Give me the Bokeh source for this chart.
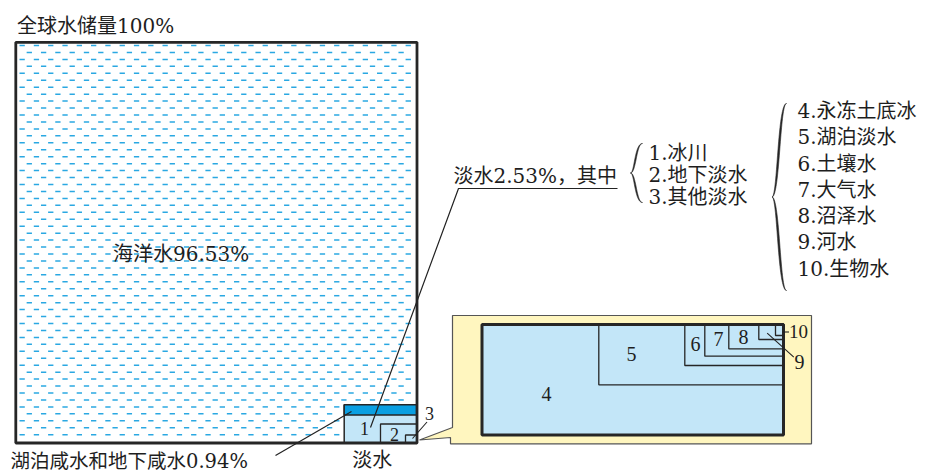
import numpy as np
from bokeh.plotting import figure
from bokeh.models import Range1d
from bokeh.core.properties import value
from bokeh.embed import file_html
from bokeh.resources import INLINE

# ---------------- data ----------------
total_pct = 100
ocean_pct = 96.53
fresh_pct = 2.53
saline_pct = 0.94
title_label = f"全球水储量{total_pct}%"
ocean_label = f"海洋水{ocean_pct:.2f}%"
fresh_label = f"淡水{fresh_pct:.2f}%，其中"
saline_label = f"湖泊咸水和地下咸水{saline_pct:.2f}%"
fresh_word = "淡水"
fresh_items = ["1.冰川", "2.地下淡水", "3.其他淡水"]
other_items = ["4.永冻土底冰", "5.湖泊淡水", "6.土壤水", "7.大气水",
               "8.沼泽水", "9.河水", "10.生物水"]
inset_ids = ["5", "6", "7", "8", "9", "10"]

# ---------------- layout (pixel space of the picture) ----------------
W, H = 926, 473
MIX = value("'DejaVu Serif', 'Noto Sans CJK SC'")
SERIF = value("Liberation Serif")
INK = "#262626"
LIGHT = "#c3e6f8"

p = figure(width=W, height=H, x_range=Range1d(0, W), y_range=Range1d(H, 0),
           output_backend="svg", toolbar_location=None, min_border=0,
           x_axis_type=None, y_axis_type=None)
p.grid.visible = False
p.outline_line_color = None
p.background_fill_color = "white"
p.border_fill_color = "white"

# big box frame
BX0, BX1, BY0, BY1 = 15.3, 416.5, 41.8, 442.5
# fresh-water block
FX0, FY0, FY1 = 343.7, 404.3, 414.5

# ocean dash pattern
xs0, ys0 = [], []
for i, y in enumerate(np.arange(45.0, 440.0, 6.95)):
    off = 7.15 * (i % 2)
    for x in np.arange(19.0 + off, BX1 - 6, 14.3):
        if x + 5.3 > FX0 - 2 and y > FY0 - 3:
            continue
        xs0.append(x)
        ys0.append(y)
xs0 = np.array(xs0)
ys0 = np.array(ys0)
p.segment(x0=xs0, y0=ys0, x1=xs0 + 5.3, y1=ys0, line_color="#2aa8e2", line_width=1.5)

# fresh water region
p.quad(left=[FX0], right=[BX1], top=[FY0], bottom=[BY1], fill_color=LIGHT,
       line_color=INK, line_width=1.5)
p.quad(left=[FX0], right=[BX1], top=[FY0], bottom=[FY1], fill_color="#0a9fe2",
       line_color=INK, line_width=1.5)
p.quad(left=[380.0, 405.0], right=[BX1, BX1], top=[423.5, 434.5], bottom=[BY1, BY1],
       fill_color=LIGHT, line_color=INK, line_width=1.3)

# big box frame on top
p.quad(left=[BX0], right=[BX1], top=[BY0], bottom=[BY1], fill_color=None,
       line_color=INK, line_width=2.8)

# call-out
p.patch(x=[452, 811, 811, 450, 450, 419, 452], y=[315, 315, 443.3, 443.3, 437, 439.5, 427],
        fill_color="#fff6bf", line_color="#555555", line_width=1.2)

# inset
IX0, IX1, IY0, IY1 = 481.5, 783.0, 324.0, 434.5
p.quad(left=[IX0], right=[IX1], top=[IY0], bottom=[IY1], fill_color=LIGHT,
       line_color=None)
lefts = [598.3, 684.3, 704.3, 728.3, 758.3, 775.0]
bottoms = [384.3, 365.0, 355.7, 348.3, 339.0, 335.0]
p.quad(left=lefts, right=[IX1] * 6, top=[IY0] * 6, bottom=bottoms, fill_color=None,
       line_color=INK, line_width=1.3)
p.quad(left=[IX0], right=[IX1], top=[IY0], bottom=[IY1], fill_color=None,
       line_color=INK, line_width=3)

# leader lines
lc = "#222222"
p.line(x=[617, 458, 370], y=[188, 188, 427], line_color=lc, line_width=1.2)
p.line(x=[275, 351], y=[455, 411], line_color=lc, line_width=1.2)
p.line(x=[426.5, 412], y=[421.5, 438], line_color=lc, line_width=1.1)
p.line(x=[766.7, 793.3], y=[332.7, 356.7], line_color=lc, line_width=1.1)
p.line(x=[781.7, 788.5], y=[331.5, 331.5], line_color=lc, line_width=1.1)


def bez(P0, P1, P2, P3, n=40):
    t = np.linspace(0, 1, n)[:, None]
    P0, P1, P2, P3 = map(np.array, (P0, P1, P2, P3))
    return (1 - t) ** 3 * P0 + 3 * (1 - t) ** 2 * t * P1 + 3 * (1 - t) * t ** 2 * P2 + t ** 3 * P3


def brace(xl, xm, xr, y0, y1, th):
    ym = (y0 + y1) / 2
    o1 = bez((xr, y0), (xm, y0), (xm, ym), (xl, ym))
    o2 = bez((xl, ym), (xm, ym), (xm, y1), (xr, y1))
    i2 = bez((xl, ym), (xm + th, ym), (xm + th, y1), (xr, y1))[::-1]
    i1 = bez((xr, y0), (xm + th, y0), (xm + th, ym), (xl, ym))[::-1]
    pts = np.vstack([o1, o2, i2, i1])
    p.patch(x=pts[:, 0], y=pts[:, 1], fill_color=INK, line_color=INK, line_width=0.6)


brace(630.0, 634.0, 642.0, 143.0, 202.0, 1.8)
brace(771.5, 777.0, 786.0, 103.0, 290.0, 2.4)

# texts
def txt(x, y, s, size, font=MIX, align="left", color="#1e1e1e"):
    p.text(x=[x], y=[y], text=[s], text_font=font, text_font_size=f"{size}px",
           text_align=align, text_baseline="middle", text_color=color)


txt(16.5, 25, title_label, 20)
txt(112.5, 253, ocean_label, 20)
txt(453, 175, fresh_label, 20)
for s, y in zip(fresh_items, [152, 174, 196]):
    txt(648, y, s, 20)
for s, y in zip(other_items, [110.7, 136.7, 163.5, 189.0, 215.0, 241.0, 268.0]):
    txt(797, y, s, 20)
txt(371.7, 459, fresh_word, 20, align="center")
txt(10, 460.5, saline_label, 19.5)

# inset numbers
txt(364, 428, "1", 18, SERIF, "center")
txt(394, 434, "2", 18, SERIF, "center")
txt(429, 413, "3", 18, SERIF, "center")
txt(546, 393, "4", 20, SERIF, "center")
num_x = [631, 695, 718, 743, 799, 788.5]
num_y = [353, 343, 338.5, 336, 361, 331]
for s, x, y in zip(inset_ids, num_x, num_y):
    txt(x, y, s, 19 if s == "10" else 20, SERIF, "left" if s == "10" else "center")

open("out.html", "w").write(file_html(p, INLINE))
